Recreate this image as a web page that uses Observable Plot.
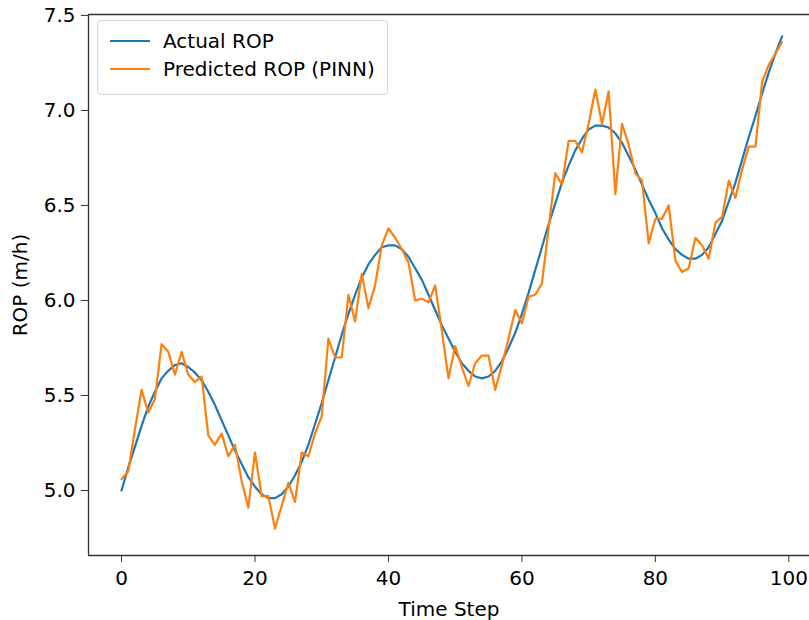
<!DOCTYPE html>
<html>
<head>
<meta charset="utf-8">
<script src="https://cdn.jsdelivr.net/npm/d3@7"></script>
<script src="https://cdn.jsdelivr.net/npm/@observablehq/plot@0.6"></script>
<style>
  body { margin: 0; background: #fff; }
  #wrap { position: relative; width: 809px; height: 620px; font-family: "DejaVu Sans", sans-serif; }
  #legend { position: absolute; left: 97px; top: 20px; width: 291px; height: 75px; box-sizing: border-box;
    border: 1px solid #d6d6d6; border-radius: 4px; background: rgba(255,255,255,0.85); font-size: 20px; }
  .item { position: absolute; left: 12px; height: 24px; display: flex; align-items: center; }
  .sw { width: 40px; height: 2.2px; margin-right: 13px; }
</style>
</head>
<body>
<div id="wrap"></div>
<script>
const seriesNames = ["Actual ROP", "Predicted ROP (PINN)"];
const seriesColors = ["#1f77b4", "#ff7f0e"];
const xTicks = [0, 20, 40, 60, 80, 100];
const yTicks = [5.0, 5.5, 6.0, 6.5, 7.0, 7.5];

const actualROP = [
  5.00, 5.12, 5.23, 5.34, 5.44, 5.52, 5.59, 5.63, 5.66, 5.67,
  5.65, 5.62, 5.58, 5.52, 5.45, 5.37, 5.29, 5.21, 5.14, 5.07,
  5.02, 4.98, 4.96, 4.96, 4.98, 5.02, 5.08, 5.15, 5.24, 5.35,
  5.46, 5.58, 5.70, 5.82, 5.93, 6.03, 6.12, 6.19, 6.24, 6.28,
  6.29, 6.29, 6.27, 6.23, 6.17, 6.11, 6.03, 5.95, 5.87, 5.80,
  5.73, 5.67, 5.63, 5.60, 5.59, 5.60, 5.63, 5.68, 5.75, 5.83,
  5.93, 6.04, 6.16, 6.28, 6.40, 6.51, 6.62, 6.71, 6.79, 6.85,
  6.90, 6.92, 6.92, 6.91, 6.88, 6.83, 6.76, 6.69, 6.61, 6.53,
  6.46, 6.38, 6.32, 6.27, 6.24, 6.22, 6.22, 6.24, 6.28, 6.35,
  6.42, 6.52, 6.62, 6.74, 6.86, 6.97, 7.09, 7.20, 7.30, 7.39
];

const predictedROP = [
  5.06, 5.10, 5.32, 5.53, 5.41, 5.48, 5.77, 5.73, 5.61, 5.73,
  5.61, 5.57, 5.60, 5.29, 5.24, 5.30, 5.18, 5.24, 5.05, 4.91,
  5.20, 4.97, 4.97, 4.80, 4.92, 5.04, 4.94, 5.20, 5.18, 5.30,
  5.39, 5.80, 5.70, 5.70, 6.03, 5.89, 6.14, 5.96, 6.08, 6.29,
  6.38, 6.33, 6.27, 6.20, 6.00, 6.01, 5.99, 6.08, 5.84, 5.59,
  5.76, 5.65, 5.55, 5.67, 5.71, 5.71, 5.53, 5.66, 5.80, 5.95,
  5.88, 6.02, 6.03, 6.09, 6.38, 6.67, 6.61, 6.84, 6.84, 6.78,
  6.93, 7.11, 6.93, 7.10, 6.56, 6.93, 6.82, 6.67, 6.63, 6.30,
  6.43, 6.43, 6.50, 6.21, 6.15, 6.17, 6.33, 6.29, 6.22, 6.41,
  6.44, 6.63, 6.54, 6.69, 6.81, 6.81, 7.15, 7.24, 7.30, 7.36
];

const actualData = actualROP.map((v, i) => ({t: i, v}));
const predData = predictedROP.map((v, i) => ({t: i, v}));

const xDomain = [-4.95, 103.1];
const yDomain = [4.658, 7.505];

const chart = Plot.plot({
  width: 809,
  height: 620,
  marginLeft: 88,
  marginRight: 0,
  marginTop: 14,
  marginBottom: 65,
  style: {fontFamily: "DejaVu Sans, sans-serif", fontSize: "20px", color: "#000", background: "#fff"},
  x: {domain: xDomain},
  y: {domain: yDomain},
  marks: [
    Plot.axisX({ticks: xTicks, tickSize: 7, tickPadding: 8, label: "Time Step", labelAnchor: "center",
      labelArrow: "none", labelOffset: 60, stroke: "#333", fontSize: 20}),
    Plot.axisY({ticks: yTicks, tickSize: 7, tickPadding: 6, tickFormat: d => d.toFixed(1), label: "ROP (m/h)",
      labelAnchor: "center", labelArrow: "none", labelOffset: 76, stroke: "#333", fontSize: 20}),
    Plot.line(actualData, {x: "t", y: "v", stroke: seriesColors[0], strokeWidth: 2.2}),
    Plot.line(predData, {x: "t", y: "v", stroke: seriesColors[1], strokeWidth: 2.2}),
    Plot.ruleX([xDomain[0]], {stroke: "#333", strokeWidth: 1.3}),
    Plot.ruleY([yDomain[0], yDomain[1]], {stroke: "#333", strokeWidth: 1.3})
  ]
});

const wrap = document.getElementById("wrap");
wrap.appendChild(chart);

const legend = document.createElement("div");
legend.id = "legend";
seriesNames.forEach((name, i) => {
  const item = document.createElement("div");
  item.className = "item";
  item.style.top = (8 + i * 28) + "px";
  const sw = document.createElement("div");
  sw.className = "sw";
  sw.style.background = seriesColors[i];
  const lab = document.createElement("span");
  lab.textContent = name;
  item.appendChild(sw);
  item.appendChild(lab);
  legend.appendChild(item);
});
wrap.appendChild(legend);
</script>
</body>
</html>
